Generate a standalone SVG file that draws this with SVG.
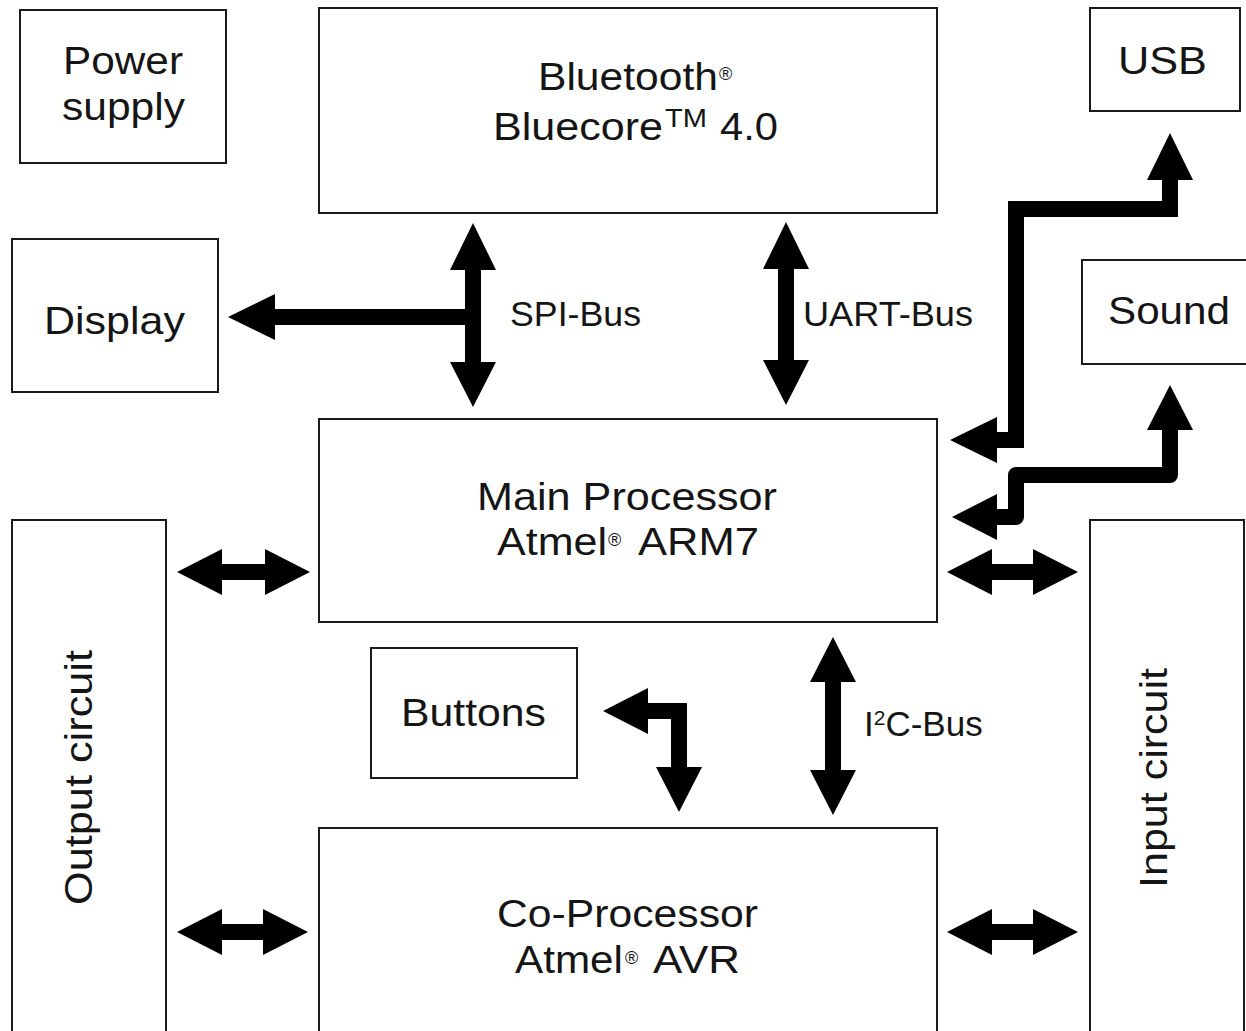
<svg xmlns="http://www.w3.org/2000/svg" width="1246" height="1031" viewBox="0 0 1246 1031">
<style>
.box{fill:#fff;stroke:#1a1a1a;stroke-width:2}
.t{font-family:"Liberation Sans",Arial,sans-serif;font-size:39px;fill:#151515}
.l{font-family:"Liberation Sans",Arial,sans-serif;font-size:35px;fill:#151515}
.sup{font-family:"Liberation Sans",Arial,sans-serif;font-size:18px;fill:#151515}
.a{fill:#000}
.s{fill:none;stroke:#000;stroke-width:16}
</style>
<rect width="1246" height="1031" fill="#fff"/>
<g id="power"><rect class="box" x="20" y="10" width="206" height="153"/>
<text class="t" x="63" y="74" textLength="120" lengthAdjust="spacingAndGlyphs">Power</text>
<text class="t" x="62" y="120" textLength="123" lengthAdjust="spacingAndGlyphs">supply</text></g>
<g id="bluetooth"><rect class="box" x="319" y="8" width="618" height="205"/>
<text class="t" x="538" y="90" textLength="180" lengthAdjust="spacingAndGlyphs">Bluetooth</text>
<text class="sup" x="719" y="80">®</text>
<text class="t" x="493" y="140" textLength="170" lengthAdjust="spacingAndGlyphs">Bluecore</text>
<text class="t" x="665" y="127" style="font-size:25px" textLength="42" lengthAdjust="spacingAndGlyphs">TM</text>
<text class="t" x="720" y="140" textLength="58" lengthAdjust="spacingAndGlyphs">4.0</text></g>
<g id="usb"><rect class="box" x="1090" y="8" width="150" height="103"/>
<text class="t" x="1118" y="74" textLength="89" lengthAdjust="spacingAndGlyphs">USB</text></g>
<g id="display"><rect class="box" x="12" y="239" width="206" height="153"/>
<text class="t" x="44" y="334" textLength="141" lengthAdjust="spacingAndGlyphs">Display</text></g>
<g id="sound"><rect class="box" x="1082" y="260" width="170" height="104"/>
<text class="t" x="1108" y="324" textLength="122" lengthAdjust="spacingAndGlyphs">Sound</text></g>
<g id="main"><rect class="box" x="319" y="419" width="618" height="203"/>
<text class="t" x="477" y="510" textLength="300" lengthAdjust="spacingAndGlyphs">Main Processor</text>
<text class="t" x="497" y="555" textLength="110" lengthAdjust="spacingAndGlyphs">Atmel</text>
<text class="sup" x="608" y="546">®</text>
<text class="t" x="638" y="555" textLength="121" lengthAdjust="spacingAndGlyphs">ARM7</text></g>
<g id="output"><rect class="box" x="12" y="520" width="154" height="530"/>
<text class="t" transform="translate(92,905) rotate(-90)" textLength="255" lengthAdjust="spacingAndGlyphs">Output circuit</text></g>
<g id="input"><rect class="box" x="1090" y="520" width="154" height="530"/>
<text class="t" transform="translate(1167,888) rotate(-90)" textLength="220" lengthAdjust="spacingAndGlyphs">Input circuit</text></g>
<g id="buttons"><rect class="box" x="371" y="648" width="206" height="130"/>
<text class="t" x="401" y="726" textLength="145" lengthAdjust="spacingAndGlyphs">Buttons</text></g>
<g id="coproc"><rect class="box" x="319" y="828" width="618" height="220"/>
<text class="t" x="497" y="927" textLength="261" lengthAdjust="spacingAndGlyphs">Co-Processor</text>
<text class="t" x="515" y="973" textLength="108" lengthAdjust="spacingAndGlyphs">Atmel</text>
<text class="sup" x="625" y="964">®</text>
<text class="t" x="653" y="973" textLength="87" lengthAdjust="spacingAndGlyphs">AVR</text></g>
<g id="connectors">
<polygon class="a" points="473,223 496,270 481,270 481,362 496,362 473,407 450,362 465,362 465,270 450,270"/>
<polygon class="a" points="228,317 275,294 275,309 473,309 473,325 275,325 275,340"/>
<text class="l" x="510" y="326" textLength="131" lengthAdjust="spacingAndGlyphs">SPI-Bus</text>
<polygon class="a" points="786,222 809,269 794,269 794,360 809,360 786,405 763,360 778,360 778,269 763,269"/>
<text class="l" x="803" y="326" textLength="170" lengthAdjust="spacingAndGlyphs">UART-Bus</text>
<polygon class="a" points="833,637 856,682 841,682 841,770 856,770 833,815 810,770 825,770 825,682 810,682"/>
<text class="l" x="864" y="736">I<tspan style="font-size:21px" dy="-11">2</tspan><tspan dy="11">C-Bus</tspan></text>
<polygon class="a" points="177,572 222,549 222,564 265,564 265,549 310,572 265,595 265,580 222,580 222,595"/>
<polygon class="a" points="947,572 992,549 992,564 1033,564 1033,549 1078,572 1033,595 1033,580 992,580 992,595"/>
<polygon class="a" points="177,932 222,909 222,924 263,924 263,909 308,932 263,955 263,940 222,940 222,955"/>
<polygon class="a" points="947,932 992,909 992,924 1033,924 1033,909 1078,932 1033,955 1033,940 992,940 992,955"/>
<path class="s" d="M990 440 H1016 V209 H1170 V175"/>
<polygon class="a" points="1170,133 1193,180 1147,180"/>
<polygon class="a" points="950,440 997,417 997,463"/>
<path class="s" d="M990 517 H1016 V475 H1170 V425" stroke-linejoin="round"/>
<polygon class="a" points="1170,385 1193,430 1147,430"/>
<polygon class="a" points="952,517 997,494 997,540"/>
<path class="s" d="M640 711 H679 V770"/>
<polygon class="a" points="603,711 648,688 648,734"/>
<polygon class="a" points="679,812 702,767 656,767"/>
</g>
</svg>
